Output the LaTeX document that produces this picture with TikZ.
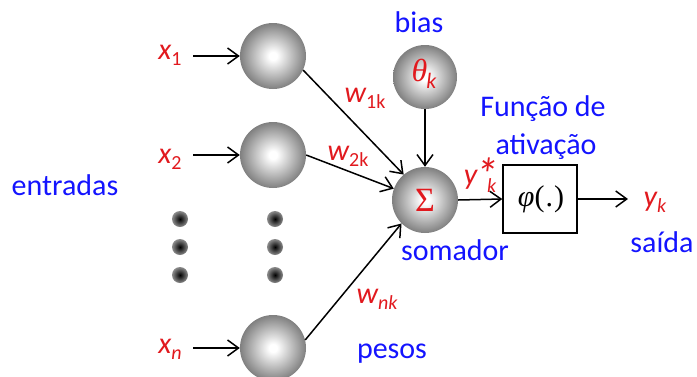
\documentclass[tikz,border=0pt]{standalone}
\usepackage{fontspec}
\setmainfont{Carlito}
\newfontfamily\grk{Liberation Serif}
\usetikzlibrary{arrows.meta}
\definecolor{myred}{RGB}{225,25,30}
\definecolor{myblue}{RGB}{20,20,255}
\pgfdeclareradialshading{sphere}{\pgfpoint{0bp}{0bp}}{color(0bp)=(white); color(3bp)=(white); color(25bp)=(black!50); color(50bp)=(black!50)}
\pgfdeclareradialshading{dotshade}{\pgfpoint{0bp}{0bp}}{color(0bp)=(black); color(25bp)=(black!45); color(50bp)=(black!45)}
\newcommand{\sbs}[1]{\raisebox{-6pt}{\fontsize{20}{20}\selectfont #1}}
\tikzset{
  neuron/.style={circle, minimum size=66pt, inner sep=0pt, shading=sphere},
  blackdot/.style={circle, minimum size=16pt, inner sep=0pt, shading=dotshade},
  redlbl/.style={text=myred, inner sep=0pt, anchor=base, font=\fontsize{30}{36}\selectfont\itshape},
  bluelbl/.style={text=myblue, inner sep=0pt, anchor=base, font=\fontsize{30}{36}\selectfont},
  arr/.style={line width=1.5pt, -{Straight Barb[length=11pt,width=16pt,line width=1.5pt]}},
  funbox/.style={draw, line width=1.5pt, minimum width=74pt, minimum height=68pt, inner sep=0pt}
}
\begin{document}
\begin{tikzpicture}[x=1pt,y=-1pt]
\useasboundingbox (0,0) rectangle (697,376);
% input neurons
\node[neuron] (c1) at (273,56) {};
\node[neuron] (c2) at (273,155) {};
\node[neuron] (cn) at (273,348) {};
% dots
\foreach \i/\yy in {1/219,2/247,3/275}{
  \node[blackdot] (da\i) at (180,\yy) {};
  \node[blackdot] (db\i) at (275,\yy) {};
}
% bias and summation
\node[neuron, minimum size=64pt] (bias) at (425,77) {};
\node[text=myred, inner sep=0pt, anchor=base] (theta) at (424,81) {{\grk\itshape\fontsize{32}{32}\selectfont θ}\hspace{-1pt}\raisebox{-7pt}{\fontsize{22}{22}\selectfont\itshape k}};
\node[neuron] (sig) at (425,200) {};
\node[text=myred, inner sep=0pt, anchor=base] (sigma) at (425,211) {\grk\fontsize{34}{34}\selectfont Σ};
\node[funbox] (phi) at (540,199) {};
\node[inner sep=0pt, anchor=base] (phit) at (541,206) {\grk\fontsize{30}{30}\selectfont{\itshape φ}(\hspace{1pt}.\hspace{1pt})};
% input labels
\node[redlbl] (x1) at (170,59) {x\sbs{\upshape 1}};
\node[redlbl] (x2) at (170,163) {x\sbs{\upshape 2}};
\node[redlbl] (xn) at (170,353) {x\sbs{n}};
\node[redlbl] (yk) at (655,206) {y\sbs{k}};
\node[redlbl] (ys) at (480,184) {y\hspace{-2pt}\raisebox{-6pt}{\fontsize{46}{46}\selectfont *}\hspace{-11pt}\raisebox{-8pt}{\fontsize{20}{20}\selectfont k}};
\node[redlbl] (w1) at (365,102) {w\sbs{\upshape 1k}};
\node[redlbl] (w2) at (348,160) {w\sbs{\upshape 2k}};
\node[redlbl] (wn) at (377,303) {w\sbs{nk}};
% blue labels
\node[bluelbl] (entr) at (65,195) {entradas};
\node[bluelbl] (biast) at (419,32) {bias};
\node[bluelbl] (fun1) at (543,116) {Função de};
\node[bluelbl] (fun2) at (546,154) {ativação};
\node[bluelbl] (soma) at (455,260) {somador};
\node[bluelbl] (said) at (662,252) {saída};
\node[bluelbl] (peso) at (392,358) {pesos};
% connectors
\coordinate (a1) at (193,56);
\coordinate (a2) at (193,155);
\coordinate (an) at (193,348);
\coordinate (out) at (628,199);
\draw[arr] (a1) -- (c1.west);
\draw[arr] (a2) -- (c2.west);
\draw[arr] (an) -- (cn.west);
\draw[arr] (c1.-25) -- (sig.130);
\draw[arr] (c2.0) -- (sig.160);
\draw[arr] (cn.14) -- (sig.-135);
\draw[arr] (bias.south) -- (sig.north);
\draw[arr] (sig.east) -- (phi.west);
\draw[arr] (phi.east) -- (out);
\end{tikzpicture}
\end{document}
